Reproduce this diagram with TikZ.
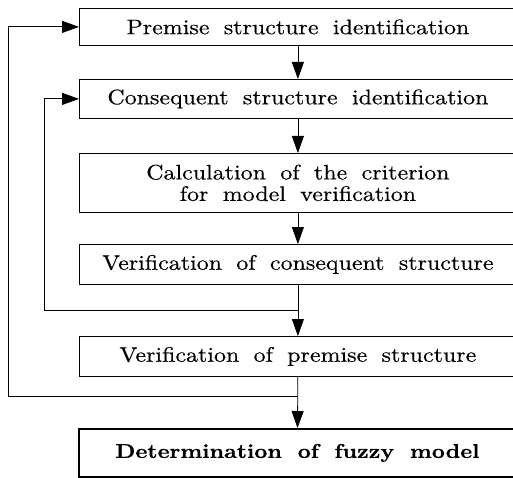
\documentclass[tikz,border=0pt]{standalone}
\usepackage{fontspec}
\setmainfont{lmroman10-regular.otf}[BoldFont=lmroman10-bold.otf, FakeStretch=1.14, WordSpace=1.8, FakeBold=0.4]
\usetikzlibrary{arrows.meta}
\begin{document}
\begin{tikzpicture}[x=1pt,y=-1pt,
  box/.style={draw, line width=0.8pt, anchor=north west, minimum width=437pt, inner sep=0pt, align=center, font=\fontsize{21}{21.5}\selectfont},
  arr/.style={line width=0.8pt, -{Triangle[length=17pt,width=12pt]}},
  ln/.style={line width=0.8pt}]
\useasboundingbox (0,0) rectangle (513,478);
\node[box, minimum height=37pt] (b1) at (79,8) {Premise structure identification};
\node[box, minimum height=39pt] (b2) at (79,79) {Consequent structure identification};
\node[box, minimum height=59pt] (b3) at (79,153) {Calculation of the criterion\\for model verification};
\node[box, minimum height=40pt] (b4) at (79,244) {Verification of consequent structure};
\node[box, minimum height=40pt] (b5) at (79,336) {Verification of premise structure};
\node[box, minimum height=48pt, line width=1.8pt, font=\fontsize{20}{21}\selectfont\bfseries] (b6) at (78,428) {Determination of fuzzy model};
\coordinate (j1) at (b4.south |- 0,310);
\coordinate (c1) at (44,310);
\coordinate (j2) at (b5.south |- 0,396);
\coordinate (c2) at (8,396);
\draw[arr] (b1) -- (b2);
\draw[arr] (b2) -- (b3);
\draw[arr] (b3) -- (b4);
\draw[arr] (b4) -- (b5);
\draw[arr] (b5) -- (b6);
\draw[arr] (j1) -- (c1) |- (b2.west);
\draw[arr] (j2) -- (c2) |- (b1.west);
\end{tikzpicture}
\end{document}
